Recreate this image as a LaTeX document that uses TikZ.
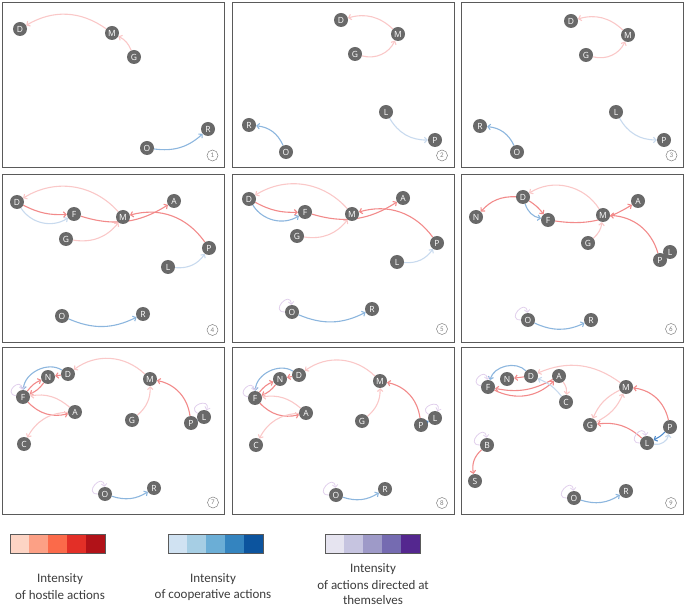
\documentclass[tikz,border=0pt]{standalone}
\usepackage{fontspec}
\setmainfont{Carlito}
\newfontfamily\ndfont{Open Sans}
\usetikzlibrary{arrows.meta}
\pgfdeclarelayer{bg}
\pgfsetlayers{bg,main}
\definecolor{hl}{RGB}{250,200,200}
\definecolor{hm}{RGB}{242,138,138}
\definecolor{cl}{RGB}{200,218,238}
\definecolor{cm}{RGB}{140,182,222}
\definecolor{cd}{RGB}{80,140,205}
\definecolor{sl}{RGB}{225,208,236}
\definecolor{ndfill}{RGB}{105,105,105}
\definecolor{framec}{RGB}{90,90,90}
\definecolor{txt}{RGB}{60,60,60}
\definecolor{r1}{RGB}{253,212,196}
\definecolor{r2}{RGB}{252,160,133}
\definecolor{r3}{RGB}{251,106,74}
\definecolor{r4}{RGB}{227,47,39}
\definecolor{r5}{RGB}{177,18,24}
\definecolor{b1}{RGB}{208,226,242}
\definecolor{b2}{RGB}{166,206,228}
\definecolor{b3}{RGB}{107,174,214}
\definecolor{b4}{RGB}{52,132,191}
\definecolor{b5}{RGB}{12,84,158}
\definecolor{u1}{RGB}{230,228,240}
\definecolor{u2}{RGB}{198,196,224}
\definecolor{u3}{RGB}{158,154,200}
\definecolor{u4}{RGB}{117,107,177}
\definecolor{u5}{RGB}{84,39,143}
\tikzset{
  nd/.style={circle,fill=ndfill,text=white,minimum size=14pt,inner sep=0pt,font=\ndfont\fontsize{8.5}{8.5}\selectfont},
  frame/.style={draw=framec,line width=0.8pt},
  numlab/.style={circle,draw=gray,line width=0.5pt,minimum size=11pt,inner sep=0pt,text=gray,font=\fontsize{7}{7}\selectfont},
  ed/.style={line width=1.1pt,-{Straight Barb[length=2.6pt,width=5.5pt]}},
  hle/.style={ed,draw=hl},
  hme/.style={ed,draw=hm},
  cle/.style={ed,draw=cl},
  cme/.style={ed,draw=cm},
  cde/.style={ed,draw=cd},
  slf/.style={ed,draw=sl,line width=0.8pt},
  legtxt/.style={text=txt,font=\fontsize{13}{15}\selectfont,align=center,inner sep=0pt}
}
\begin{document}
\begin{tikzpicture}[x=1pt,y=1pt]
\useasboundingbox (0,0) rectangle (685,-609);
% frames
\draw[frame] (2,-2) rectangle (224.5,-167.5);
\draw[frame] (232,-2) rectangle (454.5,-167.5);
\draw[frame] (461,-2) rectangle (683,-167.5);
\draw[frame] (2,-174) rectangle (224.5,-342);
\draw[frame] (232,-174) rectangle (454.5,-342);
\draw[frame] (461,-174) rectangle (683,-342);
\draw[frame] (2,-347) rectangle (224.5,-514);
\draw[frame] (232,-347) rectangle (454.5,-514);
\draw[frame] (461,-347) rectangle (683,-514);

% ---------- panel 1
\node[nd] (p1D) at (20,-29) {D};
\node[nd] (p1M) at (112,-33) {M};
\node[nd] (p1G) at (134,-57) {G};
\node[nd] (p1R) at (208,-129) {R};
\node[nd] (p1O) at (147,-148) {O};
\node[numlab] (l1) at (212.5,-155.5) {1};
% ---------- panel 2
\node[nd] (p2D) at (341,-20) {D};
\node[nd] (p2M) at (398,-34) {M};
\node[nd] (p2G) at (355,-54) {G};
\node[nd] (p2L) at (386,-112) {L};
\node[nd] (p2P) at (435,-140) {P};
\node[nd] (p2R) at (249,-125) {R};
\node[nd] (p2O) at (286,-152) {O};
\node[numlab] (l2) at (442,-155.5) {2};
% ---------- panel 3
\node[nd] (p3D) at (571,-21) {D};
\node[nd] (p3M) at (628,-35) {M};
\node[nd] (p3G) at (586,-55) {G};
\node[nd] (p3L) at (616,-112) {L};
\node[nd] (p3P) at (664,-140) {P};
\node[nd] (p3R) at (480,-126) {R};
\node[nd] (p3O) at (517,-152) {O};
\node[numlab] (l3) at (671.5,-155.5) {3};
% ---------- panel 4
\node[nd] (p4D) at (17,-202) {D};
\node[nd] (p4F) at (74,-214) {F};
\node[nd] (p4M) at (123,-217) {M};
\node[nd] (p4A) at (174,-201) {A};
\node[nd] (p4G) at (66,-239) {G};
\node[nd] (p4P) at (209,-248) {P};
\node[nd] (p4L) at (168,-267) {L};
\node[nd] (p4O) at (62,-316) {O};
\node[nd] (p4R) at (143,-314) {R};
\node[numlab] (l4) at (212.5,-330) {4};
% ---------- panel 5
\node[nd] (p5D) at (249,-199) {D};
\node[nd] (p5F) at (305,-212) {F};
\node[nd] (p5M) at (352,-214) {M};
\node[nd] (p5A) at (403,-198) {A};
\node[nd] (p5G) at (297,-236) {G};
\node[nd] (p5P) at (437,-243) {P};
\node[nd] (p5L) at (397,-262) {L};
\node[nd] (p5O) at (292,-312) {O};
\node[nd] (p5R) at (372,-309) {R};
\node[numlab] (l5) at (442,-329) {5};
% ---------- panel 6
\node[nd] (p6D) at (523,-197) {D};
\node[nd] (p6N) at (476,-217) {N};
\node[nd] (p6F) at (548,-220) {F};
\node[nd] (p6M) at (603,-215) {M};
\node[nd] (p6A) at (638,-201) {A};
\node[nd] (p6G) at (588,-243) {G};
\node[nd] (p6L) at (670,-252) {L};
\node[nd] (p6P) at (660,-260) {P};
\node[nd] (p6O) at (528,-320) {O};
\node[nd] (p6R) at (591,-320) {R};
\node[numlab] (l6) at (671,-329) {6};
% ---------- panel 7
\node[nd] (p7D) at (68,-374) {D};
\node[nd] (p7N) at (48,-377) {N};
\node[nd] (p7F) at (23,-397) {F};
\node[nd] (p7A) at (75,-412) {A};
\node[nd] (p7C) at (24,-444) {C};
\node[nd] (p7M) at (150,-379) {M};
\node[nd] (p7G) at (132,-420) {G};
\node[nd] (p7P) at (191,-423) {P};
\node[nd] (p7L) at (204,-417) {L};
\node[nd] (p7O) at (105,-494) {O};
\node[nd] (p7R) at (154,-488) {R};
\node[numlab] (l7) at (213,-502.5) {7};
% ---------- panel 8
\node[nd] (p8D) at (299,-375) {D};
\node[nd] (p8N) at (280,-379) {N};
\node[nd] (p8F) at (255,-398) {F};
\node[nd] (p8A) at (306,-413) {A};
\node[nd] (p8C) at (256,-445) {C};
\node[nd] (p8M) at (380,-381) {M};
\node[nd] (p8G) at (362,-421) {G};
\node[nd] (p8P) at (421,-425) {P};
\node[nd] (p8L) at (435,-418) {L};
\node[nd] (p8O) at (336,-495) {O};
\node[nd] (p8R) at (385,-489) {R};
\node[numlab] (l8) at (442,-503) {8};
% ---------- panel 9
\node[nd] (p9F) at (488,-387) {F};
\node[nd] (p9N) at (507,-379) {N};
\node[nd] (p9D) at (531,-376) {D};
\node[nd] (p9A) at (559,-376) {A};
\node[nd] (p9C) at (566,-402) {C};
\node[nd] (p9M) at (626,-387) {M};
\node[nd] (p9G) at (590,-425) {G};
\node[nd] (p9L) at (647,-443) {L};
\node[nd] (p9P) at (670,-427) {P};
\node[nd] (p9B) at (487,-445) {B};
\node[nd] (p9S) at (475,-481) {S};
\node[nd] (p9O) at (574,-498) {O};
\node[nd] (p9R) at (626,-491) {R};
\node[numlab] (l9) at (671,-503) {9};

\begin{pgfonlayer}{bg}
% panel 1
\draw[hle] (p1G) to[bend right=20] (p1M);
\draw[hle] (p1M) to[bend right=33] (p1D);
\draw[cme] (p1O) to[bend right=25] (p1R);
% panel 2
\draw[hle] (p2G) to[bend right=40] (p2M);
\draw[hle] (p2M) to[bend right=30] (p2D);
\draw[cme] (p2O) to[bend right=30] (p2R);
\draw[cle] (p2L) to[bend right=30] (p2P);
% panel 3
\draw[hle] (p3G) to[bend right=40] (p3M);
\draw[hle] (p3M) to[bend right=30] (p3D);
\draw[cme] (p3O) to[bend right=30] (p3R);
\draw[cle] (p3L) to[bend right=30] (p3P);
% panel 4
\draw[hle] (p4M) to[bend right=40] (p4D);
\draw[cle] (p4D) to[bend right=45] (p4F);
\draw[hme] (p4D) to[bend right=15] (p4F);
\draw[hme] (p4F) to[bend right=25] (p4A);
\draw[hme] (p4P) to[bend right=35] (p4M);
\draw[hle] (p4G) to[bend right=30] (p4M);
\draw[cle] (p4L) to[bend right=30] (p4P);
\draw[cme] (p4O) to[bend right=25] (p4R);
% panel 5
\draw[hle] (p5M) to[bend right=40] (p5D);
\draw[cme] (p5D) to[bend right=45] (p5F);
\draw[hme] (p5D) to[bend right=15] (p5F);
\draw[hme] (p5F) to[bend right=25] (p5A);
\draw[hme] (p5P) to[bend right=35] (p5M);
\draw[hle] (p5G) to[bend right=30] (p5M);
\draw[cle] (p5L) to[bend right=30] (p5P);
\draw[cme] (p5O) to[bend right=25] (p5R);
\draw[slf] (p5O) to[out=180,in=95,looseness=4] (p5O);
% panel 6
\draw[hle] (p6M) to[bend right=45] (p6D);
\draw[cme] (p6D) to[bend right=30] (p6F);
\draw[hme] (p6D) to[bend left=10] (p6F);
\draw[hme] (p6F) to[bend right=20] (p6A);
\draw[hme] (p6D) to[bend right=25] (p6N);
\draw[hme] (p6P) to[bend right=35] (p6M);
\draw[hle] (p6G) to[bend right=20] (p6M);
\draw[cme] (p6O) to[bend right=25] (p6R);
\draw[slf] (p6O) to[out=180,in=95,looseness=4] (p6O);
% panel 7
\draw[hle] (p7M) to[bend right=40] (p7D);
\draw[cme] (p7D) to[bend right=60] (p7F);
\draw[hme] (p7D) to (p7N);
\draw[hme] (p7F) to[bend left=15] (p7N);
\draw[hme] (p7N) to[bend left=15] (p7F);
\draw[hme] (p7F) to[bend right=30] (p7A);
\draw[hle] (p7A) to[bend right=25] (p7F);
\draw[hle] (p7A) to[bend right=30] (p7C);
\draw[slf] (p7F) to[out=170,in=95,looseness=4] (p7F);
\draw[hle] (p7G) to[bend right=25] (p7M);
\draw[hme] (p7P) to[bend right=35] (p7M);
\draw[cme] (p7L) to (p7P);
\draw[slf] (p7L) to[out=150,in=70,looseness=4] (p7L);
\draw[cme] (p7O) to[bend right=25] (p7R);
\draw[slf] (p7O) to[out=180,in=95,looseness=4] (p7O);
% panel 8
\draw[hle] (p8M) to[bend right=40] (p8D);
\draw[cme] (p8D) to[bend right=60] (p8F);
\draw[hme] (p8D) to (p8N);
\draw[hme] (p8F) to[bend left=15] (p8N);
\draw[hme] (p8N) to[bend left=15] (p8F);
\draw[hme] (p8F) to[bend right=30] (p8A);
\draw[hle] (p8A) to[bend right=25] (p8F);
\draw[hle] (p8A) to[bend right=30] (p8C);
\draw[slf] (p8F) to[out=170,in=95,looseness=4] (p8F);
\draw[hle] (p8G) to[bend right=25] (p8M);
\draw[hme] (p8P) to[bend right=35] (p8M);
\draw[cde] (p8P) to (p8L);
\draw[slf] (p8L) to[out=150,in=70,looseness=4] (p8L);
\draw[cme] (p8O) to[bend right=25] (p8R);
\draw[slf] (p8O) to[out=180,in=95,looseness=4] (p8O);
% panel 9
\draw[hle] (p9M) to[bend right=30] (p9D);
\draw[cme] (p9D) to[bend right=60] (p9F);
\draw[hme] (p9D) to (p9N);
\draw[hme] (p9F) to[bend right=35] (p9A);
\draw[hme] (p9A) to[bend left=20] (p9F);
\draw[cle] (p9C) to[bend right=15] (p9D);
\draw[hle] (p9A) to[bend left=20] (p9C);
\draw[slf] (p9F) to[out=170,in=95,looseness=4] (p9F);
\draw[hle] (p9G) to[bend right=20] (p9M);
\draw[hle] (p9M) to[bend right=20] (p9G);
\draw[hme] (p9P) to[bend right=35] (p9M);
\draw[hme] (p9L) to[bend right=25] (p9G);
\draw[cde] (p9P) to[bend left=10] (p9L);
\draw[cle] (p9L) to[bend right=45] (p9P);
\draw[slf] (p9L) to[out=180,in=100,looseness=4] (p9L);
\draw[slf] (p9B) to[out=180,in=95,looseness=4] (p9B);
\draw[hme] (p9B) to[bend right=30] (p9S);
\draw[cme] (p9O) to[bend right=25] (p9R);
\draw[slf] (p9O) to[out=180,in=95,looseness=4] (p9O);
\end{pgfonlayer}

% ---------- legend
\foreach \c [count=\i from 0] in {r1,r2,r3,r4,r5}
  \fill[\c] (10+\i*19,-534) rectangle (29+\i*19,-553);
\draw[framec,line width=0.8pt] (10,-534) rectangle (105,-553);
\foreach \c [count=\i from 0] in {b1,b2,b3,b4,b5}
  \fill[\c] (168+\i*19,-534) rectangle (187+\i*19,-553);
\draw[framec,line width=0.8pt] (168,-534) rectangle (263,-553);
\foreach \c [count=\i from 0] in {u1,u2,u3,u4,u5}
  \fill[\c] (325+\i*19,-534) rectangle (344+\i*19,-553);
\draw[framec,line width=0.8pt] (325,-534) rectangle (420,-553);
\node[legtxt] (t1a) at (60,-579) {Intensity};
\node[legtxt] (t1b) at (60,-595) {of hostile actions};
\node[legtxt] (t2a) at (213,-579) {Intensity};
\node[legtxt] (t2b) at (213,-595) {of cooperative actions};
\node[legtxt] (t3a) at (373,-569) {Intensity};
\node[legtxt] (t3b) at (373,-585) {of actions directed at};
\node[legtxt] (t3c) at (373,-600.5) {themselves};
\end{tikzpicture}
\end{document}
